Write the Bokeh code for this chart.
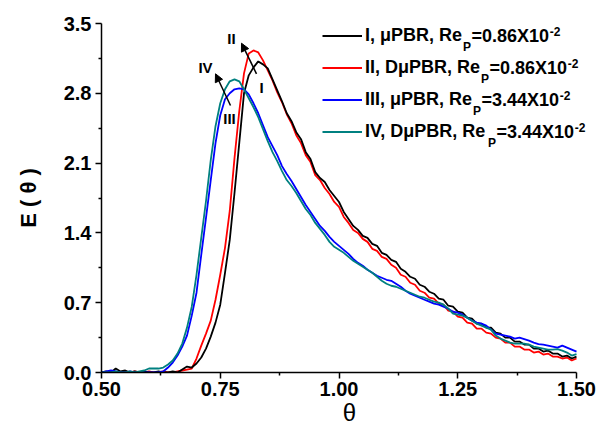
from bokeh.plotting import figure
from bokeh.models import (Label, Arrow, NormalHead, Legend, LegendItem,
                          FixedTicker, PrintfTickFormatter)
from bokeh.embed import file_html
from bokeh.resources import INLINE

# ---------------- data ----------------
theta = [0.50, 0.51, 0.52, 0.53, 0.54, 0.55, 0.56, 0.57, 0.58, 0.59,
         0.60, 0.61, 0.62, 0.63, 0.64, 0.65, 0.66, 0.67, 0.68, 0.69,
         0.70, 0.71, 0.72, 0.73, 0.74, 0.75, 0.76, 0.77, 0.78, 0.79,
         0.80, 0.81, 0.82, 0.83, 0.84, 0.85, 0.86, 0.87, 0.88, 0.89,
         0.90, 0.91, 0.92, 0.93, 0.94, 0.95, 0.96, 0.97, 0.98, 0.99,
         1.00, 1.01, 1.02, 1.03, 1.04, 1.05, 1.06, 1.07, 1.08, 1.09,
         1.10, 1.11, 1.12, 1.13, 1.14, 1.15, 1.16, 1.17, 1.18, 1.19,
         1.20, 1.21, 1.22, 1.23, 1.24, 1.25, 1.26, 1.27, 1.28, 1.29,
         1.30, 1.31, 1.32, 1.33, 1.34, 1.35, 1.36, 1.37, 1.38, 1.39,
         1.40, 1.41, 1.42, 1.43, 1.44, 1.45, 1.46, 1.47, 1.48, 1.49, 1.50]

E_I = [0.00, 0.01, 0.00, 0.04, 0.01, 0.02, 0.00, 0.01, 0.00, 0.01,
       0.00, 0.00, 0.01, 0.00, 0.00, 0.01, 0.00, 0.03, 0.06, 0.05,
       0.09, 0.15, 0.24, 0.36, 0.50, 0.68, 1.00, 1.33, 1.80, 2.30,
       2.80, 2.98, 3.06, 3.12, 3.09, 3.05, 2.94, 2.83, 2.72, 2.60,
       2.52, 2.41, 2.34, 2.21, 2.14, 2.01, 1.95, 1.91, 1.83, 1.77,
       1.71, 1.61, 1.54, 1.47, 1.43, 1.37, 1.35, 1.29, 1.27, 1.20,
       1.18, 1.13, 1.11, 1.04, 1.01, 0.96, 0.94, 0.88, 0.86, 0.81,
       0.79, 0.74, 0.73, 0.67, 0.66, 0.61, 0.60, 0.55, 0.54, 0.49,
       0.49, 0.45, 0.45, 0.40, 0.39, 0.35, 0.35, 0.31, 0.31, 0.28,
       0.28, 0.24, 0.24, 0.21, 0.22, 0.19, 0.19, 0.16, 0.17, 0.14, 0.16]

E_II = [0.00, 0.00, 0.01, 0.00, 0.00, 0.01, 0.00, 0.01, 0.00, 0.00,
        0.01, 0.00, 0.00, 0.01, 0.00, 0.00, 0.01, 0.02, 0.03, 0.04,
        0.14, 0.27, 0.39, 0.52, 0.73, 0.98, 1.25, 1.62, 2.15, 2.62,
        3.00, 3.20, 3.23, 3.21, 3.13, 3.03, 2.93, 2.81, 2.71, 2.59,
        2.50, 2.38, 2.30, 2.18, 2.11, 1.98, 1.93, 1.85, 1.79, 1.71,
        1.66, 1.56, 1.50, 1.43, 1.40, 1.34, 1.31, 1.24, 1.22, 1.16,
        1.14, 1.08, 1.05, 0.98, 0.96, 0.90, 0.88, 0.82, 0.80, 0.75,
        0.74, 0.69, 0.68, 0.62, 0.61, 0.56, 0.55, 0.50, 0.49, 0.44,
        0.44, 0.40, 0.39, 0.35, 0.34, 0.30, 0.30, 0.26, 0.26, 0.23,
        0.23, 0.20, 0.21, 0.18, 0.19, 0.16, 0.16, 0.14, 0.15, 0.12, 0.14]

E_III = [0.00, 0.01, 0.02, 0.01, 0.00, 0.00, 0.01, 0.00, 0.00, 0.00,
         0.00, 0.00, 0.00, 0.01, 0.05, 0.10, 0.17, 0.26, 0.37, 0.57,
         0.80, 1.18, 1.55, 1.93, 2.30, 2.58, 2.74, 2.80, 2.84, 2.85,
         2.84, 2.79, 2.70, 2.60, 2.48, 2.36, 2.27, 2.18, 2.07, 1.99,
         1.92, 1.84, 1.76, 1.68, 1.61, 1.54, 1.47, 1.42, 1.36, 1.31,
         1.27, 1.23, 1.19, 1.14, 1.10, 1.07, 1.03, 1.00, 0.97, 0.95,
         0.93, 0.92, 0.89, 0.86, 0.82, 0.79, 0.77, 0.75, 0.73, 0.71,
         0.69, 0.68, 0.66, 0.64, 0.61, 0.60, 0.58, 0.55, 0.52, 0.50,
         0.49, 0.47, 0.43, 0.39, 0.38, 0.37, 0.36, 0.34, 0.35, 0.335,
         0.32, 0.30, 0.285, 0.28, 0.27, 0.26, 0.25, 0.27, 0.25, 0.23, 0.21]

E_IV = [0.00, 0.00, 0.00, 0.01, 0.00, 0.00, 0.01, 0.00, 0.01, 0.02,
        0.04, 0.04, 0.04, 0.05, 0.08, 0.12, 0.19, 0.29, 0.45, 0.66,
        0.98, 1.35, 1.72, 2.13, 2.47, 2.70, 2.84, 2.92, 2.94, 2.92,
        2.84, 2.75, 2.66, 2.56, 2.44, 2.32, 2.21, 2.12, 2.02, 1.93,
        1.87, 1.80, 1.72, 1.64, 1.58, 1.50, 1.44, 1.38, 1.31, 1.26,
        1.23, 1.20, 1.16, 1.12, 1.09, 1.06, 1.03, 1.00, 0.96, 0.92,
        0.89, 0.87, 0.86, 0.84, 0.82, 0.80, 0.78, 0.76, 0.75, 0.73,
        0.71, 0.70, 0.68, 0.64, 0.59, 0.58, 0.57, 0.55, 0.52, 0.49,
        0.47, 0.45, 0.43, 0.37, 0.34, 0.32, 0.30, 0.29, 0.29, 0.29,
        0.28, 0.26, 0.25, 0.24, 0.23, 0.23, 0.235, 0.22, 0.20, 0.17, 0.185]

series_names = ["I, \u03bcPBR, Re", "II, D\u03bcPBR, Re",
                "III, \u03bcPBR, Re", "IV, D\u03bcPBR, Re"]
re_values = ["=0.86X10", "=0.86X10", "=3.44X10", "=3.44X10"]
re_exponent = "-2"
colors = ["#000000", "#ff0000", "#0000ff", "#008080"]

x_ticks = [0.50, 0.75, 1.00, 1.25, 1.50]
x_minor = [0.625, 0.875, 1.125, 1.375]
y_ticks = [0.0, 0.7, 1.4, 2.1, 2.8, 3.5]
y_minor = [0.35, 1.05, 1.75, 2.45, 3.15]

# ---------------- figure ----------------
# frame: page x 101..597 (axis drawn only to 1.50 at x=576), page y 23..372
W, H = 597, 432
FL, FR, FT, FB = 101.0, 597.0, 23.0, 372.0
X_PER_PX = 1.0 / 475.0
x_end = 0.5 + (FR - FL) * X_PER_PX

p = figure(width=W, height=H, x_range=(0.5, x_end), y_range=(0.0, 3.5),
           output_backend="svg", toolbar_location=None,
           min_border_left=int(FL), min_border_right=0,
           min_border_top=int(FT), min_border_bottom=int(H - FB))
p.xgrid.visible = False
p.ygrid.visible = False
p.outline_line_color = None
p.background_fill_color = "white"
p.border_fill_color = "white"

FONT = "Liberation Sans"

for ax in (p.xaxis[0], p.yaxis[0]):
    ax.axis_line_width = 1.5
    ax.axis_line_color = "black"
    ax.major_tick_line_width = 1.5
    ax.minor_tick_line_width = 1.5
    ax.major_tick_line_color = "black"
    ax.minor_tick_line_color = "black"
    ax.major_tick_out = 6
    ax.major_tick_in = 0
    ax.minor_tick_out = 3
    ax.minor_tick_in = 0
    ax.major_label_text_font = FONT
    ax.major_label_text_font_style = "bold"
    ax.major_label_text_font_size = "20px"
    ax.major_label_text_color = "black"
    ax.axis_label_text_color = "black"
    ax.axis_label_text_font = FONT

p.xaxis.bounds = (0.5, 1.5)
p.xaxis.ticker = FixedTicker(ticks=x_ticks, minor_ticks=x_minor)
p.yaxis.ticker = FixedTicker(ticks=y_ticks, minor_ticks=y_minor)
p.xaxis.formatter = PrintfTickFormatter(format="%.2f")
p.yaxis.formatter = PrintfTickFormatter(format="%.1f")
p.xaxis.major_label_standoff = 3
p.yaxis.major_label_standoff = 4

p.xaxis.axis_label = "\u03b8"
p.xaxis.axis_label_text_font_size = "24px"
p.xaxis.axis_label_text_font_style = "normal"
p.xaxis.axis_label_standoff = 0

p.yaxis.axis_label = "E ( \u03b8 )"
p.yaxis.axis_label_text_font_size = "22px"
p.yaxis.axis_label_text_font_style = "bold"
p.yaxis.axis_label_standoff = 20

data = [E_I, E_II, E_III, E_IV]
renderers = [None] * 4
for idx in (1, 0, 2, 3):
    renderers[idx] = p.line(theta, data[idx], line_color=colors[idx], line_width=1.8)

# ---------------- legend ----------------
legend = Legend(items=[LegendItem(label=series_names[i], renderers=[renderers[i]])
                       for i in range(4)],
                location=(221, 226.5), glyph_width=40, glyph_height=29,
                label_height=29, spacing=3, padding=0, margin=0,
                label_standoff=3, border_line_color=None,
                background_fill_alpha=0,
                label_text_font=FONT, label_text_font_style="bold",
                label_text_font_size="18px", label_text_color="black")
p.add_layout(legend)


# page-pixel -> data helpers (for annotation placement)
def X(px):
    return 0.5 + (px - FL) * X_PER_PX


def Y(py):
    return (FB - py) * 3.5 / (FB - FT)


prefix_w = [97.0, 115.0, 107.0, 122.0]
text_x0 = 365.0
for i in range(4):
    yc = 35.0 + 32.0 * i
    w = prefix_w[i]
    p.add_layout(Label(x=X(text_x0 + w + 0.5), y=Y(yc + 11.5), text="P",
                       text_font=FONT, text_font_style="bold",
                       text_font_size="12px", text_baseline="alphabetic",
                       text_align="left", text_color="black"))
    p.add_layout(Label(x=X(text_x0 + w + 9.0), y=Y(yc), text=re_values[i],
                       text_font=FONT, text_font_style="bold",
                       text_font_size="18px", text_baseline="middle",
                       text_align="left", text_color="black"))
    p.add_layout(Label(x=X(text_x0 + w + 9.0 + 78.3), y=Y(yc - 4.0),
                       text=re_exponent, text_font=FONT,
                       text_font_style="bold", text_font_size="12px",
                       text_baseline="alphabetic", text_align="left",
                       text_color="black"))

# ---------------- curve annotations ----------------
for (xs, ys, xe, ye) in [(256, 73.3, 241, 42.7), (230, 105, 215, 73.3)]:
    p.add_layout(Arrow(end=NormalHead(size=8, fill_color="black",
                                      line_color="black", line_width=1),
                       x_start=X(xs), y_start=Y(ys), x_end=X(xe), y_end=Y(ye),
                       line_width=1.5, line_color="black"))

for txt, px, py in [("II", 231, 38), ("I", 261, 87), ("IV", 205, 67), ("III", 229, 118)]:
    p.add_layout(Label(x=X(px), y=Y(py), text=txt, text_font=FONT,
                       text_font_style="bold", text_font_size="15px",
                       text_align="center", text_baseline="middle",
                       text_color="black"))

open("out.html", "w").write(file_html(p, INLINE))
